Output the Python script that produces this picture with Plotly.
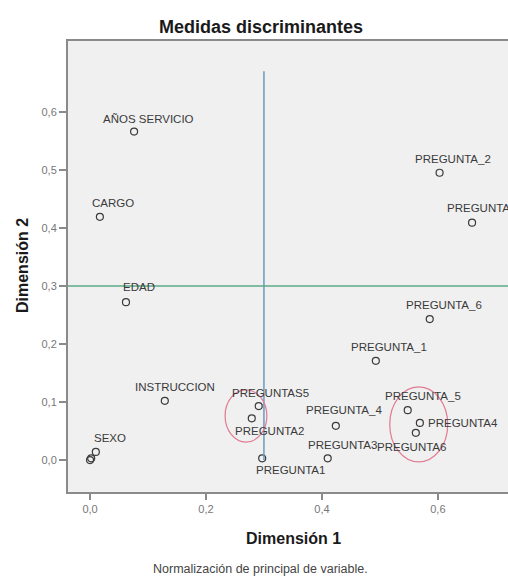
import plotly.graph_objects as go

# ---- data ----
variables = ["AÑOS SERVICIO", "CARGO", "EDAD", "INSTRUCCION", "SEXO",
             "PREGUNTAS5", "PREGUNTA2", "PREGUNTA1", "PREGUNTA_4", "PREGUNTA3",
             "PREGUNTA_5", "PREGUNTA4", "PREGUNTA6", "PREGUNTA_2", "PREGUNTA_3",
             "PREGUNTA_6", "PREGUNTA_1", "", ""]
dim1 = [0.076, 0.017, 0.062, 0.129, 0.010,
        0.291, 0.279, 0.297, 0.424, 0.410,
        0.548, 0.569, 0.562, 0.603, 0.659,
        0.586, 0.493, 0.000, 0.002]
dim2 = [0.566, 0.419, 0.272, 0.102, 0.014,
        0.093, 0.072, 0.003, 0.059, 0.003,
        0.086, 0.064, 0.047, 0.495, 0.409,
        0.243, 0.171, 0.000, 0.003]

x_ticks = [0.0, 0.2, 0.4, 0.6]
x_tick_labels = ["0,0", "0,2", "0,4", "0,6"]
y_ticks = [0.0, 0.1, 0.2, 0.3, 0.4, 0.5, 0.6]
y_tick_labels = ["0,0", "0,1", "0,2", "0,3", "0,4", "0,5", "0,6"]

ref_x = 0.3          # vertical reference line
ref_y = 0.3          # horizontal reference line
ref_x_span = [0.0, 0.67]

# highlighted groups (x0, x1, y0, y1)
highlight_1 = [0.233, 0.305, 0.031, 0.121]
highlight_2 = [0.517, 0.617, -0.003, 0.126]

title_text = "Medidas discriminantes"
x_title = "Dimensión 1"
y_title = "Dimensión 2"
footnote = "Normalización de principal de variable."

# ---- label placement (pixel offsets from marker) ----
label_offsets = {
    "AÑOS SERVICIO": (14, 13), "CARGO": (13, 14), "EDAD": (13, 15),
    "INSTRUCCION": (10, 14), "SEXO": (14, 14), "PREGUNTAS5": (12, 13),
    "PREGUNTA2": (18, -13), "PREGUNTA1": (28, -12), "PREGUNTA_4": (8, 16),
    "PREGUNTA3": (15, 13), "PREGUNTA_5": (15, 14), "PREGUNTA4": (43, 0),
    "PREGUNTA6": (-4, -14), "PREGUNTA_2": (13, 14), "PREGUNTA_3": (13, 15),
    "PREGUNTA_6": (14, 14), "PREGUNTA_1": (13, 14),
}

W, H = 508, 580
L, R, T, B = 68, 0, 41, 88
x_range = [-0.038, 0.721]
y_range = [-0.055, 0.722]

fig = go.Figure()
fig.add_trace(go.Scatter(
    x=dim1, y=dim2, mode="markers",
    marker=dict(symbol="circle-open", size=7, color="#3a3a3a", line=dict(width=1.2)),
    hoverinfo="text", text=variables, showlegend=False,
))

label_font = dict(family="Liberation Sans, Arial, sans-serif", size=11.5, color="#3a3a3a")
annotations = []
for name, xv, yv in zip(variables, dim1, dim2):
    if not name:
        continue
    dx, dy = label_offsets[name]
    annotations.append(dict(
        x=xv, y=yv, xref="x", yref="y", text=name, showarrow=False,
        xshift=dx, yshift=dy, font=label_font, xanchor="center", yanchor="middle",
    ))

pw = W - L - R
ph = H - T - B
def px_x(p):
    return (p - L) / pw
def px_y(p):
    return (H - B - p) / ph

bold = lambda s: "<b>" + s + "</b>"
annotations += [
    dict(text=bold(title_text), x=px_x(261), y=px_y(27), xref="paper", yref="paper",
         showarrow=False, font=dict(family="Liberation Sans, Arial", size=18, color="#1a1a1a"),
         xanchor="center", yanchor="middle"),
    dict(text=bold(x_title), x=px_x(293), y=px_y(538), xref="paper", yref="paper",
         showarrow=False, font=dict(family="Liberation Sans, Arial", size=16, color="#1a1a1a"),
         xanchor="center", yanchor="middle"),
    dict(text=bold(y_title), x=px_x(22), y=px_y(266), xref="paper", yref="paper",
         showarrow=False, textangle=-90,
         font=dict(family="Liberation Sans, Arial", size=16, color="#1a1a1a"),
         xanchor="center", yanchor="middle"),
    dict(text=footnote, x=px_x(260), y=px_y(569), xref="paper", yref="paper",
         showarrow=False, font=dict(family="Liberation Sans, Arial", size=12.5, color="#444444"),
         xanchor="center", yanchor="middle"),
]

shapes = [
    dict(type="line", xref="x", yref="y", x0=ref_x, x1=ref_x,
         y0=ref_x_span[0], y1=ref_x_span[1], line=dict(color="#6a9cbf", width=1.5)),
    dict(type="line", xref="x", yref="y", x0=x_range[0], x1=x_range[1],
         y0=ref_y, y1=ref_y, line=dict(color="#5daa88", width=1.5)),
    dict(type="circle", xref="x", yref="y", x0=highlight_1[0], x1=highlight_1[1],
         y0=highlight_1[2], y1=highlight_1[3], line=dict(color="#e07a92", width=1.2)),
    dict(type="circle", xref="x", yref="y", x0=highlight_2[0], x1=highlight_2[1],
         y0=highlight_2[2], y1=highlight_2[3], line=dict(color="#e07a92", width=1.2)),
]

fig.update_layout(
    width=W, height=H, autosize=False,
    margin=dict(l=L, r=R, t=T, b=B, pad=0),
    paper_bgcolor="white", plot_bgcolor="#f0f0f0",
    annotations=annotations, shapes=shapes,
    font=dict(family="Liberation Sans, Arial, sans-serif"),
)
fig.update_xaxes(
    range=x_range, tickvals=x_ticks, ticktext=x_tick_labels,
    showgrid=False, zeroline=False, showline=True, linecolor="#8a8a8a", linewidth=2,
    mirror=True, ticks="outside", ticklen=6, tickcolor="#8a8a8a", tickwidth=1.5,
    tickfont=dict(size=11, color="#777777"),
)
fig.update_yaxes(
    range=y_range, tickvals=y_ticks, ticktext=y_tick_labels,
    showgrid=False, zeroline=False, showline=True, linecolor="#8a8a8a", linewidth=2,
    ticks="outside", ticklen=7, tickcolor="#8a8a8a", tickwidth=1.5,
    tickfont=dict(size=11, color="#777777"),
)

fig.write_html("out.html", config={"displayModeBar": False},
               post_script="document.body.style.margin='0px';")
